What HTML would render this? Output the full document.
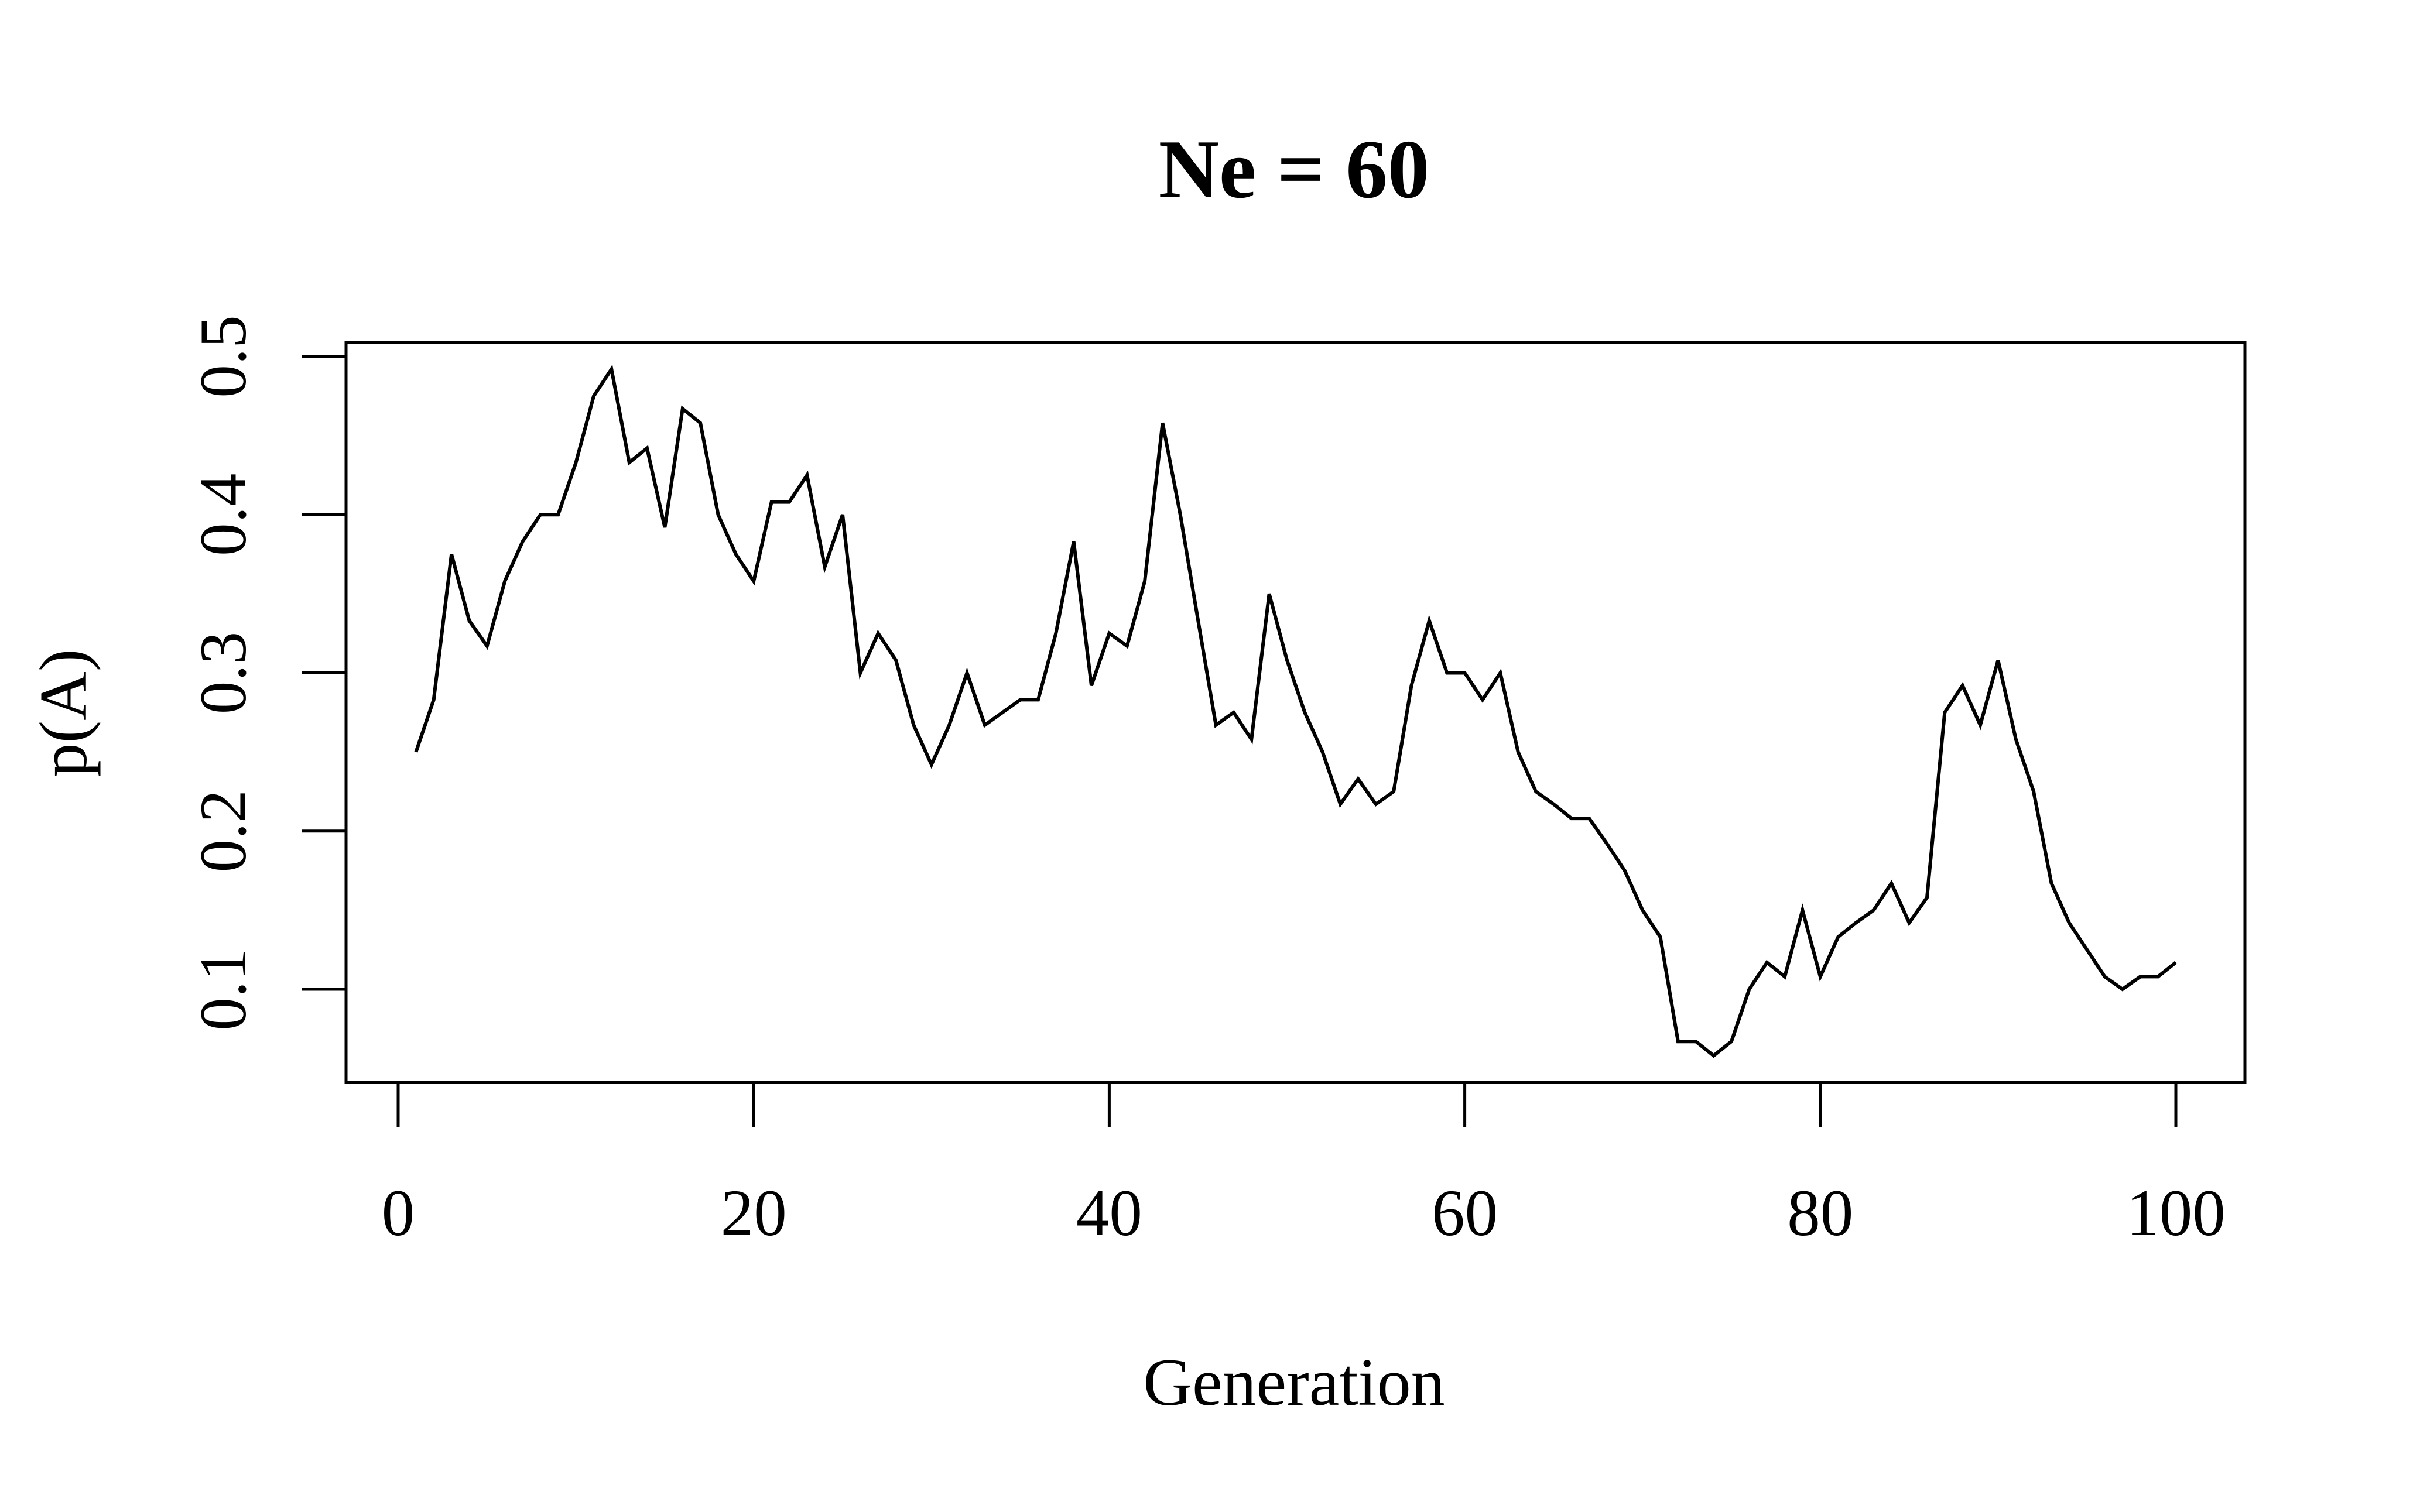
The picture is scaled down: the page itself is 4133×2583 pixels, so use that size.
<!DOCTYPE html>
<html><head><meta charset="utf-8"><style>
html,body{margin:0;padding:0;background:#fff;}
svg{display:block;font-family:"Liberation Serif",serif;}
</style></head><body>
<svg id="chart" width="4133" height="2583" viewBox="0 0 4133 2583" xmlns="http://www.w3.org/2000/svg">
<rect width="4133" height="2583" fill="#fff"/>
<text x="2210" y="337" font-size="143" font-weight="bold" text-anchor="middle">Ne = 60</text>
<rect x="591" y="585" width="3243" height="1264" fill="none" stroke="#000" stroke-width="5"/>
<g id="xaxis"></g>
<g id="yaxis"></g>
<text x="2210" y="2400" font-size="116" text-anchor="middle">Generation</text>
<text transform="translate(147,1218) rotate(-90)" font-size="116" text-anchor="middle">p(A)</text>
<path id="series" fill="none" stroke="#000" stroke-width="6" stroke-linejoin="miter"/>
</svg>
<script>
const generations = Array.from({length:100},(_,i)=>i+1);
const pA = [0.25,0.283,0.375,0.333,0.317,0.358,0.383,0.4,0.4,0.433,
0.475,0.492,0.433,0.442,0.392,0.467,0.458,0.4,0.375,0.358,
0.408,0.408,0.425,0.367,0.4,0.3,0.325,0.308,0.267,0.242,
0.267,0.3,0.267,0.275,0.283,0.283,0.325,0.383,0.292,0.325,
0.317,0.358,0.458,0.4,0.333,0.267,0.275,0.258,0.35,0.308,
0.275,0.25,0.217,0.233,0.217,0.225,0.292,0.333,0.3,0.3,
0.283,0.3,0.25,0.225,0.217,0.208,0.208,0.192,0.175,0.15,
0.133,0.067,0.067,0.058,0.067,0.1,0.117,0.108,0.15,0.108,
0.133,0.142,0.15,0.167,0.142,0.158,0.275,0.292,0.267,0.308,
0.258,0.225,0.167,0.142,0.125,0.108,0.1,0.108,0.108,0.117];
const xTicks = [0,20,40,60,80,100];
const yTicks = [0.1,0.2,0.3,0.4,0.5];
const yTickLabels = ["0.1","0.2","0.3","0.4","0.5"];

const xs = v => 680 + (v-0)*(3716-680)/100;
const ys = v => 1690 - (v-0.1)*(1690-609)/0.4;
const NS="http://www.w3.org/2000/svg";
const xa=document.getElementById('xaxis'), ya=document.getElementById('yaxis');
function mk(tag,attrs,parent){const e=document.createElementNS(NS,tag);for(const k in attrs)e.setAttribute(k,attrs[k]);parent.appendChild(e);return e;}
mk('line',{x1:xs(xTicks[0]),x2:xs(xTicks[xTicks.length-1]),y1:1849,y2:1849,stroke:'#000','stroke-width':5},xa);
xTicks.forEach(t=>{
  const l=mk('line',{x1:xs(t),x2:xs(t),y1:1849,y2:1925,stroke:'#000','stroke-width':5},xa);
  
  
  const tx=mk('text',{x:xs(t),y:2110,'font-size':113,'text-anchor':'middle'},xa);
  tx.textContent=t;
  
  
});
mk('line',{x1:591,x2:591,y1:ys(yTicks[0]),y2:ys(yTicks[yTicks.length-1]),stroke:'#000','stroke-width':5},ya);
yTicks.forEach((t,i)=>{
  const l=mk('line',{x1:515,x2:591,y1:ys(t),y2:ys(t),stroke:'#000','stroke-width':5},ya);
  
  
  const tx=mk('text',{transform:`translate(419,${ys(t)}) rotate(-90)`,'font-size':113,'text-anchor':'middle'},ya);
  tx.textContent=yTickLabels[i];
  
  
});
document.getElementById('series').setAttribute('d',pA.map((v,i)=>(i?'L':'M')+xs(generations[i]).toFixed(1)+','+ys(v).toFixed(1)).join(' '));
</script>
</body></html>
